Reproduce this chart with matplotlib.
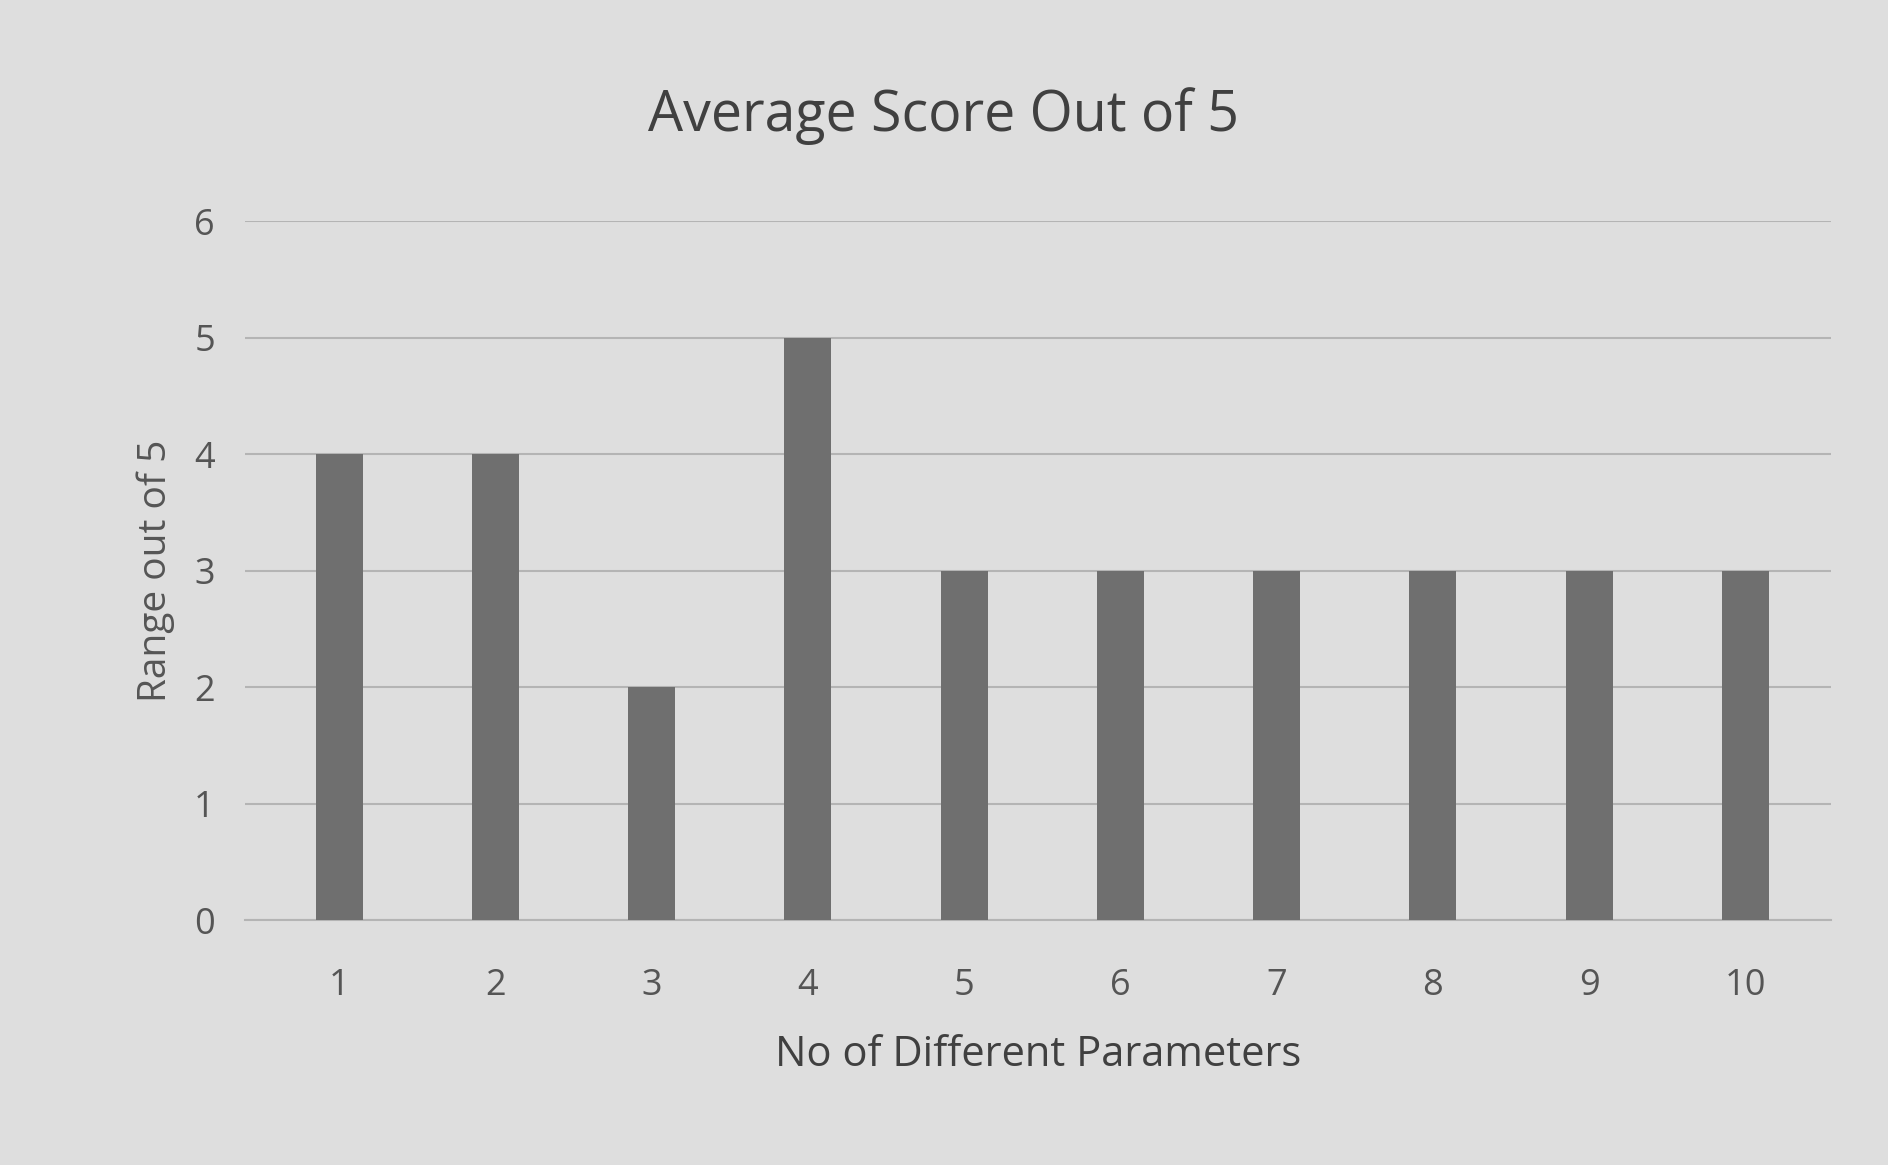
import matplotlib
matplotlib.use("Agg")
import matplotlib.pyplot as plt

# 数据
params = [1, 2, 3, 4, 5, 6, 7, 8, 9, 10]
scores = [4, 4, 2, 5, 3, 3, 3, 3, 3, 3]
yticks = [0, 1, 2, 3, 4, 5, 6]

plt.rcParams["font.family"] = ["Open Sans", "DejaVu Sans"]

bg = "#dedede"
fig = plt.figure(figsize=(18.88, 11.65), dpi=100, facecolor=bg)
ax = fig.add_axes([0.13, 0.21, 0.84, 0.60])
ax.set_facecolor(bg)

ax.bar(params, scores, width=0.3, color="#6f6f6f", zorder=3)

ax.set_ylim(0, 6)
ax.set_xlim(0.4, 10.55)
ax.set_yticks(yticks)
ax.set_xticks(params)
ax.grid(axis="y", color="#b4b4b4", lw=1.5, zorder=0)
for s in ["top", "right", "left"]:
    ax.spines[s].set_visible(False)
ax.spines["bottom"].set_color("#b4b4b4")
ax.spines["bottom"].set_linewidth(1.5)
ax.tick_params(axis="x", length=0, labelsize=26, colors="#555555", pad=34)
ax.tick_params(axis="y", length=0, labelsize=26, colors="#555555", pad=22)

ax.set_xlabel("No of Different Parameters", fontsize=30, color="#404040", labelpad=22)
ax.set_ylabel("Range out of 5", fontsize=28, color="#555555", labelpad=14)
fig.suptitle("Average Score Out of 5", fontsize=40, color="#404040", y=0.925)

fig.savefig("out.png", dpi=100, facecolor=bg)
